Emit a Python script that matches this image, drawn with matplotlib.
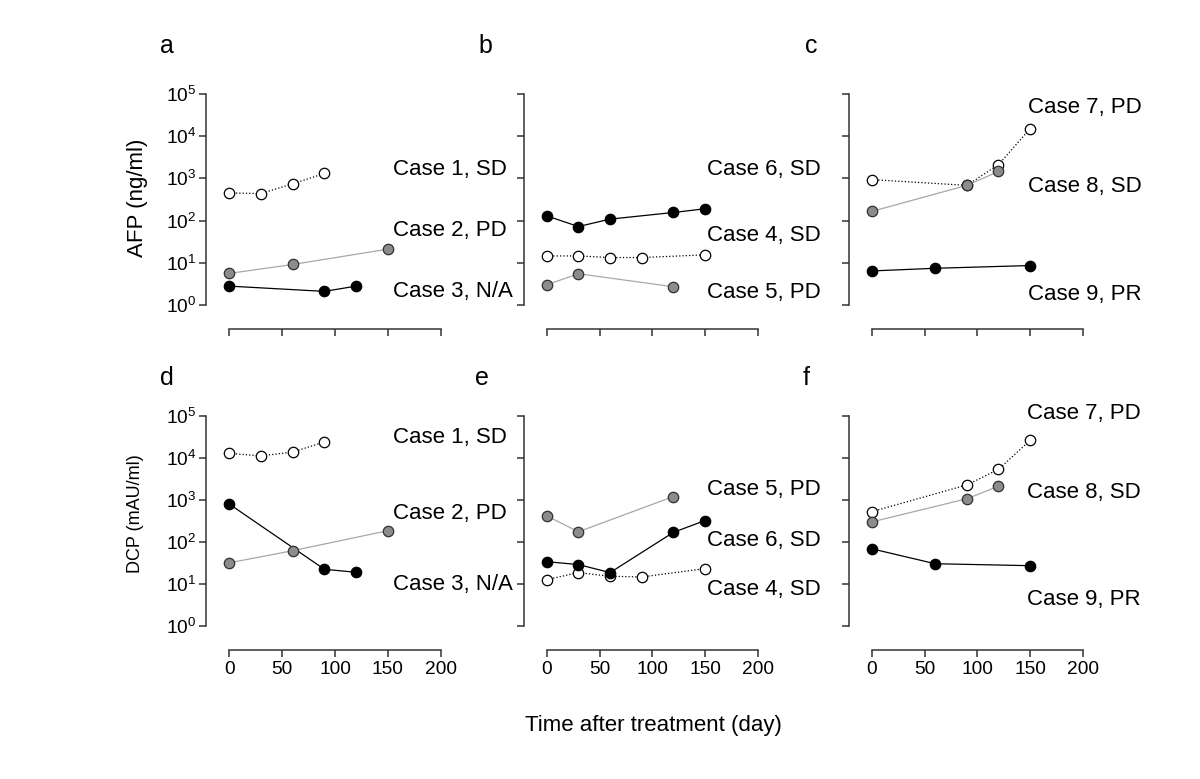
import matplotlib
matplotlib.use("Agg")
import matplotlib.pyplot as plt
import numpy as np

plt.rcParams['font.family'] = ['Liberation Sans', 'DejaVu Sans']

# --- AFP (ng/ml) per case: days and values
afp1_t = [0, 30, 60, 90];          afp1 = [450, 435, 740, 1300]
afp2_t = [0, 60, 150];             afp2 = [5.6, 9.1, 21]
afp3_t = [0, 90, 120];             afp3 = [2.8, 2.1, 2.8]
afp4_t = [0, 30, 60, 90, 150];     afp4 = [14.5, 14.5, 13.3, 13.3, 15.4]
afp5_t = [0, 30, 120];             afp5 = [3.0, 5.5, 2.7]
afp6_t = [0, 30, 60, 120, 150];    afp6 = [129, 72, 108, 155, 190]
afp7_t = [0, 90, 120, 150];        afp7 = [930, 680, 2100, 15000]
afp8_t = [0, 90, 120];             afp8 = [164, 680, 1450]
afp9_t = [0, 60, 150];             afp9 = [6.4, 7.4, 8.6]

# --- DCP (mAU/ml) per case
dcp1_t = [0, 30, 60, 90];          dcp1 = [12900, 11200, 13900, 24000]
dcp2_t = [0, 60, 150];             dcp2 = [32, 62, 186]
dcp3_t = [0, 90, 120];             dcp3 = [800, 22.4, 19]
dcp4_t = [0, 30, 60, 90, 150];     dcp4 = [12.7, 18.7, 15.3, 14.7, 23.3]
dcp5_t = [0, 30, 120];             dcp5 = [420, 175, 1210]
dcp6_t = [0, 30, 60, 120, 150];    dcp6 = [34, 29, 18.7, 170, 325]
dcp7_t = [0, 90, 120, 150];        dcp7 = [527, 2280, 5370, 26300]
dcp8_t = [0, 90, 120];             dcp8 = [300, 1070, 2130]
dcp9_t = [0, 60, 150];             dcp9 = [69, 30.4, 27.3]

responses = ["SD", "PD", "N/A", "SD", "PD", "SD", "PD", "SD", "PR"]
x_ticks = [0, 50, 100, 150, 200]
panel_letters = ["a", "b", "c", "d", "e", "f"]

afp = {1: (afp1_t, afp1), 2: (afp2_t, afp2), 3: (afp3_t, afp3),
       4: (afp4_t, afp4), 5: (afp5_t, afp5), 6: (afp6_t, afp6),
       7: (afp7_t, afp7), 8: (afp8_t, afp8), 9: (afp9_t, afp9)}
dcp = {1: (dcp1_t, dcp1), 2: (dcp2_t, dcp2), 3: (dcp3_t, dcp3),
       4: (dcp4_t, dcp4), 5: (dcp5_t, dcp5), 6: (dcp6_t, dcp6),
       7: (dcp7_t, dcp7), 8: (dcp8_t, dcp8), 9: (dcp9_t, dcp9)}

# case -> style (open/dotted, black, grey); drawn open, black, grey
def style(case):
    k = (case - 1) % 3
    if k == 0:
        return dict(color='black', ls=':', lw=0.9, marker='o', mfc='white', mec='black', zorder=3)
    if k == 2:
        return dict(color='black', ls='-', lw=0.9, marker='o', mfc='black', mec='black', zorder=4)
    return dict(color='#a8a8a8', ls='-', lw=0.9, marker='o', mfc='#8c8c8c', mec='#303030', zorder=5)

# label layout: (case, log10 y) per panel, plus label x in days
panel_cases = [[1, 2, 3], [4, 5, 6], [7, 8, 9]]
label_pos = [
    [(1, 3.2), (2, 1.77), (3, 0.33)],
    [(6, 3.2), (4, 1.65), (5, 0.30)],
    [(7, 4.67), (8, 2.81), (9, 0.26)],
    [(1, 4.5), (2, 2.67), (3, 0.99)],
    [(5, 3.24), (6, 2.04), (4, 0.87)],
    [(7, 5.05), (8, 3.17), (9, 0.635)],
]
label_x = [155, 152, 148, 155, 152, 147]

W, H = 1200, 779
fig = plt.figure(figsize=(12, 7.79), dpi=100)

lefts = [229.3, 546.7, 871.7]
rows = [(93.8, 305.0), (416.0, 626.0)]

for r, (ytop, ybot) in enumerate(rows):
    for c in range(3):
        i = r * 3 + c
        ax = fig.add_axes([lefts[c] / W, 1 - ybot / H, 211.3 / W, (ybot - ytop) / H])
        ax.set_xlim(0, 200)
        ax.set_yscale('log')
        ax.set_ylim(1, 1e5)
        ax.set_yticks([10.0 ** k for k in range(6)])
        ax.yaxis.set_minor_locator(matplotlib.ticker.NullLocator())
        ax.set_xticks(x_ticks)
        for s in ['top', 'right']:
            ax.spines[s].set_visible(False)
        ax.spines['left'].set_position(('outward', 16.5))
        ax.spines['bottom'].set_position(('outward', 17.5))
        for s in ['left', 'bottom']:
            ax.spines[s].set_color('#333333')
            ax.spines[s].set_linewidth(1.1)
        ax.tick_params(direction='out', length=5, width=1.1, color='#333333',
                       labelsize=13.8, pad=2)
        ax.patch.set_visible(False)
        if c != 0:
            ax.set_yticklabels([])
        if r == 0:
            ax.set_xticklabels([])
        else:
            ax.tick_params(axis='x', pad=3)

        data = afp if r == 0 else dcp
        cases = panel_cases[c]
        order = [cases[0], cases[2], cases[1]]
        for case in order:
            t, v = data[case]
            ax.plot(t, v, markersize=7.5, markeredgewidth=0.9, clip_on=False, **style(case))

        for case, ly in label_pos[i]:
            ax.text(label_x[i], 10 ** ly, f"Case {case}, {responses[case - 1]}",
                    fontsize=16, ha='left', va='center', clip_on=False)

# panel letters
letter_xy = [(160, 46), (478, 46), (805, 46), (160, 378), (475, 378), (803, 378)]
for L, (px, py) in zip(panel_letters, letter_xy):
    fig.text(px / W, 1 - py / H, L, fontsize=18, ha='left', va='center')

fig.text(137 / W, 1 - 198 / H, "AFP (ng/ml)", rotation=90, fontsize=16, ha='center', va='center')
fig.text(136 / W, 1 - 514 / H, "DCP (mAU/ml)", rotation=90, fontsize=13, ha='center', va='center')
fig.text(653 / W, 1 - 725 / H, "Time after treatment (day)", fontsize=16, ha='center', va='center')

fig.savefig("out.png", dpi=100)
